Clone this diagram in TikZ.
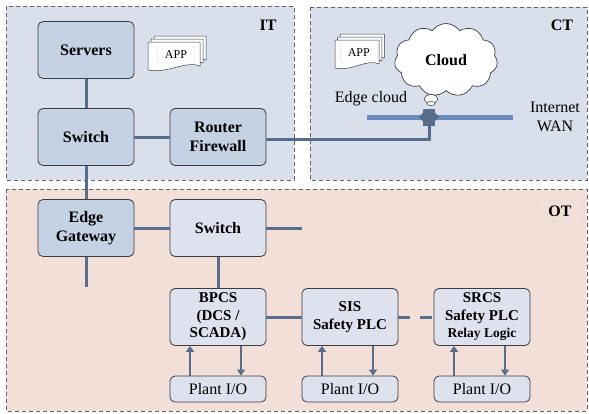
\documentclass[tikz,border=0pt]{standalone}
\usepackage{fontspec}
\setmainfont{Liberation Serif}
\usetikzlibrary{positioning}
\usetikzlibrary{shapes.symbols, arrows.meta}
\definecolor{itfill}{RGB}{217,223,235}
\definecolor{otfill}{RGB}{242,224,216}
\definecolor{darkbox}{RGB}{197,210,228}
\definecolor{lightbox}{RGB}{221,226,238}
\definecolor{linkcol}{RGB}{88,108,140}
\definecolor{barcol}{RGB}{108,140,190}
\definecolor{edgecol}{RGB}{60,60,66}
\tikzset{
  appstack/.pic={
    \foreach \d in {6,3,0} {
      \draw[edgecol,fill=white,line width=0.5pt] (\d,-\d) -- (52+\d,-\d) -- (52+\d,24-\d) .. controls (38+\d,18-\d) and (20+\d,32-\d) .. (\d,28-\d) -- cycle;
    }
    \node[draw=lightbox,fill=white,rounded corners=2pt,minimum width=37pt,minimum height=18pt,inner sep=0pt,font=\fontsize{12}{12}\selectfont] (-txt) at (28,13) {APP};
  }
}

\begin{document}
\begin{tikzpicture}[x=1pt,y=-1pt,
  region/.style={draw=edgecol!80,dash pattern=on 4pt off 3pt,line width=0.6pt},
  box/.style={draw=edgecol,rounded corners=5pt,line width=0.8pt,minimum width=96pt,minimum height=57pt,inner sep=0pt,align=center,font=\fontsize{16}{19}\selectfont\bfseries},
  itbox/.style={box,fill=darkbox},
  otbox/.style={box,fill=lightbox},
  ctrl/.style={otbox,font=\fontsize{15}{17.5}\selectfont\bfseries},
  iobox/.style={otbox,minimum height=26pt,font=\fontsize{16}{16}\selectfont},
  link/.style={linkcol,line width=3pt},
  flow/.style={linkcol,line width=2.5pt,-{Triangle[length=6pt,width=8pt]}},
  zonelabel/.style={font=\fontsize{16}{16}\selectfont\bfseries}]
\useasboundingbox (0,0) rectangle (589,413);
\fill[white] (0,0) rectangle (589,413);

\draw[region,fill=itfill] (6,6) rectangle (294,180);
\draw[region,fill=itfill] (310,7) rectangle (587,180);
\draw[region,fill=otfill] (6,189) rectangle (587,411);

\node[zonelabel] (itlab) at (268,25) {IT};
\node[zonelabel] (ctlab) at (562,25) {CT};
\node[zonelabel,draw=lightbox!80!gray,rounded corners=2pt,minimum width=48pt,minimum height=22pt] (otlab) at (560,211) {OT};

\node[itbox] (srv) at (86,50) {Servers};
\node[itbox] (swit) at (86,137) {Switch};
\node[itbox] (fw) at (218,137) {Router\\Firewall};
\node[itbox] (gw) at (86,228) {Edge\\Gateway};
\node[otbox] (swot) at (218,228) {Switch};
\node[ctrl] (bpcs) at (218,317) {BPCS\\(DCS /\\SCADA)};
\node[ctrl] (sis) at (350,317) {SIS\\Safety PLC};
\node[ctrl] (srcs) at (482,317) {SRCS\\Safety PLC\\{\fontsize{13.5}{15}\selectfont Relay Logic}};
\node[iobox] (io1) at (218,389) {Plant I/O};
\node[iobox] (io2) at (350,389) {Plant I/O};
\node[iobox] (io3) at (482,389) {Plant I/O};

\pic (appit) at (148,42) {appstack};
\pic[xscale=0.85] (appct) at (335,40) {appstack};

\node[cloud,cloud puffs=11,cloud puff arc=110,aspect=1.4,draw=edgecol,fill=white,line width=0.7pt,minimum width=103pt,minimum height=73pt,font=\fontsize{16}{16}\selectfont\bfseries] (cloud) at (446,60) {Cloud};
\draw[edgecol,fill=white,line width=0.6pt] (431,99) ellipse (6.5 and 4.5);
\draw[edgecol,fill=white,line width=0.5pt] (431,103.5) ellipse (4 and 2.2);
\node[font=\fontsize{16}{16}\selectfont] (edgelab) at (371,99) {Edge cloud};
\node[font=\fontsize{16}{19}\selectfont,align=center] (wanlab) at (555,117) {Internet\\WAN};

\coordinate (wanl) at (367,117);
\coordinate (wanr) at (513,117);
\draw[barcol,line width=5pt] (wanl) -- (wanr);
\node[fill=linkcol,minimum width=12pt,minimum height=17pt,inner sep=0pt] (hub) at (429,117) {};
\fill[linkcol] (hub.west) ++(0,-4) -- ++(-4,4) -- ++(4,4) -- cycle;
\fill[linkcol] (hub.east) ++(0,-4) -- ++(4,4) -- ++(-4,4) -- cycle;

\coordinate (ctjoin) at (429,139);
\coordinate (gwend) at (86,287);
\coordinate (swend) at (302,228);

\draw[link] (srv) -- (swit);
\draw[link] (swit) -- (fw);
\draw[link] (fw.east |- ctjoin) -- (ctjoin) -- (hub);
\draw[link] (swit) -- (gw);
\draw[link] (gw) -- (gwend);
\draw[link] (gw) -- (swot);
\draw[link] (swot) -- (swend);
\draw[link] (swot) -- (bpcs);
\draw[link] (bpcs) -- (sis);
\draw[link,dash pattern=on 12pt off 10pt] (sis) -- (srcs);

\foreach \c/\i in {bpcs/io1,sis/io2,srcs/io3} {
  \draw[flow] ([xshift=-28pt]\i.north) -- ([xshift=-28pt]\c.south);
  \draw[flow] ([xshift=23pt]\c.south) -- ([xshift=23pt]\i.north);
}

\end{tikzpicture}
\end{document}
